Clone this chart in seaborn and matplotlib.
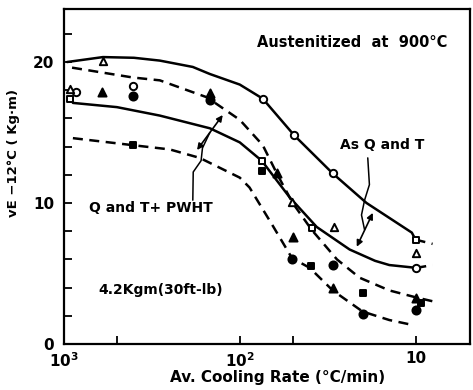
import numpy as np
import pandas as pd
import matplotlib
matplotlib.use("Agg")
import matplotlib.pyplot as plt
from matplotlib.ticker import FixedLocator, FixedFormatter, NullFormatter
import seaborn as sns

# Band curves (cooling rate in degC/min, absorbed energy in kg-m)
qt_upper_rate = [960, 600, 400, 285, 185, 148, 100, 74, 49, 29.6, 19, 10.5, 10]
qt_upper_ve = [20.0, 20.35, 20.3, 20.1, 19.65, 19.15, 18.4, 17.4, 14.8, 12.1, 10.0, 7.9, 7.4]
qt_upper_ext_rate = [10, 8.0]
qt_upper_ext_ve = [7.4, 7.1]

qt_lower_rate = [890, 500, 285, 148, 100, 75, 52, 36.5, 23.7, 17, 14.1, 9.9]
qt_lower_ve = [17.1, 16.8, 16.2, 15.3, 14.3, 13.0, 10.4, 8.3, 6.7, 5.9, 5.6, 5.4]
qt_lower_ext_rate = [9.9, 8.0]
qt_lower_ext_ve = [5.4, 5.6]

pwht_upper_rate = [900, 405, 285, 154, 100, 74, 61, 50, 39, 28, 20.8, 14.1, 9.9, 7.8]
pwht_upper_ve = [19.6, 18.9, 18.7, 17.5, 15.9, 14.1, 12.0, 10.0, 8.1, 6.0, 4.7, 3.8, 3.3, 3.0]

pwht_lower_rate = [890, 405, 250, 169, 100, 88, 65, 50.5, 40, 29.6, 20, 14.1, 10.4]
pwht_lower_ve = [14.6, 14.1, 13.8, 13.2, 11.8, 11.1, 8.4, 6.1, 5.4, 3.8, 2.3, 1.7, 1.35]

# Measured points: As Q and T (open) and Q and T + PWHT (filled)
qt_circle_rate = [860, 405, 74, 49, 29.6, 9.9]
qt_circle_ve = [17.9, 18.3, 17.4, 14.8, 12.1, 5.4]
qt_triangle_rate = [920, 600, 50.5, 29, 10]
qt_triangle_ve = [18.1, 20.1, 10.1, 8.3, 6.45]
qt_square_rate = [920, 75, 39, 10]
qt_square_ve = [17.4, 13.0, 8.2, 7.4]

pwht_circle_rate = [405, 148, 50.5, 29.6, 20, 10]
pwht_circle_ve = [17.6, 17.3, 6.0, 5.6, 2.1, 2.4]
pwht_triangle_rate = [608, 148, 61.5, 50, 29.6, 10]
pwht_triangle_ve = [17.9, 17.8, 12.1, 7.6, 4.0, 3.25]
pwht_square_rate = [405, 75, 39.5, 20, 9.3]
pwht_square_ve = [14.1, 12.3, 5.5, 3.6, 2.9]

x_tick_values = [1000, 100, 10]
x_tick_labels = ["$\\mathbf{10^3}$", "$\\mathbf{10^2}$", "10"]
x_minor_values = [500, 50]
y_tick_values = [0, 10, 20]
y_tick_labels = ["0", "10", "20"]

sns.set_theme(style="ticks")
ink = "black"
plt.rcParams["font.family"] = ["DejaVu Sans"]
plt.rcParams["font.weight"] = "bold"
plt.rcParams["text.color"] = ink
plt.rcParams["axes.labelcolor"] = ink

fig = plt.figure(figsize=(4.73, 3.90), dpi=100)
ax = fig.add_axes([64 / 473, 1 - 344 / 390, 406 / 473, 335 / 390])

dash = (4, 2.6)


def curve(rate, ve, dashed=False):
    df = pd.DataFrame({"rate": rate, "ve": ve})
    sns.lineplot(data=df, x="rate", y="ve", ax=ax, color=ink, lw=1.8,
                 sort=False, estimator=None,
                 linestyle=(0, dash) if dashed else "-")


curve(qt_upper_rate, qt_upper_ve)
curve(qt_upper_ext_rate, qt_upper_ext_ve, dashed=True)
curve(qt_lower_rate, qt_lower_ve)
curve(qt_lower_ext_rate, qt_lower_ext_ve, dashed=True)
curve(pwht_upper_rate, pwht_upper_ve, dashed=True)
curve(pwht_lower_rate, pwht_lower_ve, dashed=True)


def points(rate, ve, marker, filled, size=28):
    df = pd.DataFrame({"rate": rate, "ve": ve})
    sns.scatterplot(data=df, x="rate", y="ve", ax=ax, marker=marker, s=size,
                    facecolor=ink if filled else "white", edgecolor=ink,
                    linewidth=1.4, zorder=5)


points(qt_circle_rate, qt_circle_ve, "o", False)
points(qt_triangle_rate, qt_triangle_ve, "^", False)
points(qt_square_rate, qt_square_ve, "s", False, size=20)
points(pwht_circle_rate, pwht_circle_ve, "o", True, size=34)
points(pwht_triangle_rate, pwht_triangle_ve, "^", True, size=34)
points(pwht_square_rate, pwht_square_ve, "s", True, size=24)

ax.set_xscale("log")
ax.set_xlim(1000, 4.9)
ax.set_ylim(0, 23.76)
ax.xaxis.set_major_locator(FixedLocator(x_tick_values))
ax.xaxis.set_major_formatter(FixedFormatter(x_tick_labels))
ax.xaxis.set_minor_locator(FixedLocator(x_minor_values))
ax.xaxis.set_minor_formatter(NullFormatter())
ax.yaxis.set_major_locator(FixedLocator(y_tick_values))
ax.yaxis.set_major_formatter(FixedFormatter(y_tick_labels))
ax.yaxis.set_minor_locator(FixedLocator(np.arange(2, 24, 2)))
ax.tick_params(which="both", direction="in", length=6, width=1.3, color=ink,
               labelsize=11, labelcolor=ink, top=False, right=False)
ax.tick_params(axis="y", pad=7)
ax.tick_params(axis="x", pad=5)
for s in ax.spines.values():
    s.set_linewidth(1.6)
    s.set_color(ink)

ax.set_xlabel("Av. Cooling Rate (\u00b0C/min)", fontsize=11,
              fontweight="bold")
ax.xaxis.set_label_coords(0.527, -0.078)
ax.set_ylabel("vE \u221212\u00b0C ( Kg\u00b7m)", fontsize=9.5,
              fontweight="bold")
ax.yaxis.set_label_coords(-0.108, 0.57)

ax.text(22.8, 21.35, "Austenitized  at  900\u00b0C", ha="center", va="center",
        fontsize=10.5, fontweight="bold")
ax.text(15.4, 14.1, "As Q and T", ha="center", va="center",
        fontsize=10, fontweight="bold")
ax.text(320, 9.65, "Q and T+ PWHT", ha="center", va="center",
        fontsize=10, fontweight="bold")
ax.text(281, 3.83, "4.2Kgm(30ft-lb)", ha="center", va="center",
        fontsize=10, fontweight="bold")

# Double-headed arrows spanning each band, with leader lines to labels
arrow = dict(arrowstyle="<|-|>", color=ink, lw=1.2, mutation_scale=9,
             shrinkA=0, shrinkB=0)
ax.annotate("", xy=(125, 16.24), xytext=(175, 13.76), arrowprops=arrow)
ax.annotate("", xy=(17.5, 9.3), xytext=(21.6, 6.9), arrowprops=arrow)
ax.plot([185, 184, 166, 163, 148], [10.2, 12.2, 13.0, 13.9, 15.0],
        color=ink, lw=1.1)
ax.plot([18.7, 18.3, 19.5, 20.3, 19.5], [13.2, 11.3, 10.2, 9.15, 8.1],
        color=ink, lw=1.1)

fig.savefig("out.png", dpi=100)
